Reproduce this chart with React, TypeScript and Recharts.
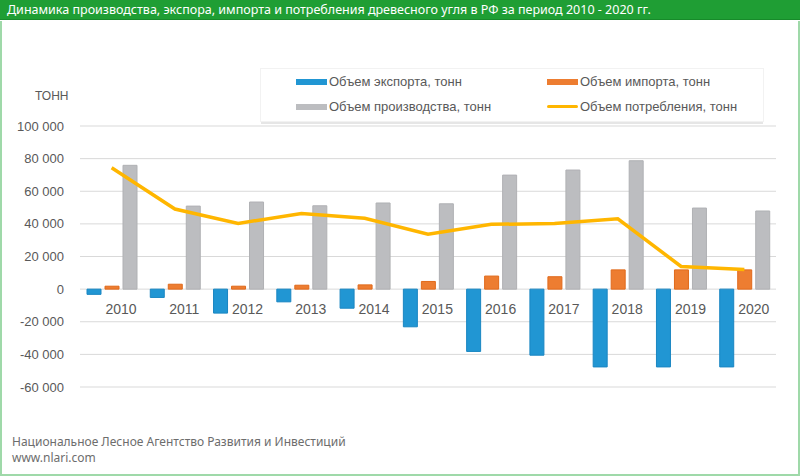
import React from 'react';
import {
    ComposedChart,
    Bar,
    Line,
    XAxis,
    YAxis,
    CartesianGrid,
    Legend,
    LabelList
} from 'recharts';

// --- Data ---

const years = ['2010', '2011', '2012', '2013', '2014', '2015', '2016', '2017', '2018', '2019', '2020'];
const exportVolume = [-3200, -5100, -14700, -7800, -11700, -23100, -38200, -40500, -47700, -47700, -47700];
const importVolume = [1800, 3000, 1800, 2400, 2600, 4700, 8000, 7600, 11800, 11800, 11800];
const productionVolume = [75900, 50900, 53400, 51100, 52800, 52300, 69900, 73000, 78700, 49700, 47900];
const consumptionVolume = [74400, 49100, 40300, 46400, 43400, 33600, 39700, 40200, 43100, 13900, 12100];
const yTicks = [-60000, -40000, -20000, 0, 20000, 40000, 60000, 80000, 100000];

const chartData = years.map((year, i) => ({
    year,
    export: exportVolume[i],
    import: importVolume[i],
    production: productionVolume[i],
    consumption: consumptionVolume[i]
}));

const FONT = '"Liberation Sans", Arial, sans-serif';
const TEXT_GRAY = '#595959';

const legendItems = [
    { name: 'Объем экспорта, тонн', color: '#2196d3', type: 'bar' },
    { name: 'Объем импорта, тонн', color: '#ed7d31', type: 'bar' },
    { name: 'Объем производства, тонн', color: '#bcbdc0', type: 'bar' },
    { name: 'Объем потребления, тонн', color: '#ffb600', type: 'line' }
];

const formatTick = (v: number) => {
    const s = Math.abs(v).toString().replace(/\B(?=(\d{3})+(?!\d))/g, ' ');
    return v < 0 ? `-${s}` : s;
};

// year labels sit just under the zero line, like Excel does
const YearLabel = (props: any) => {
    const { x, y, width, height, value } = props;
    return (
        <text
            x={x + width / 2 + 9}
            y={y + height + 25}
            textAnchor="middle"
            fill={TEXT_GRAY}
            fontSize={14}
            fontFamily={FONT}
        >
            {value}
        </text>
    );
};

const CustomLegend = () => (
    <div
        style={{
            position: 'absolute',
            left: 260,
            top: 68,
            width: 502,
            height: 52,
            background: '#fff',
            border: '1px solid #f2f2f2',
            boxShadow: '0 3px 0 -1px #e6e6e6',
            fontFamily: FONT,
            fontSize: 13,
            color: TEXT_GRAY
        }}
    >
        {legendItems.map((item, i) => (
            <div
                key={item.name}
                style={{
                    position: 'absolute',
                    left: i % 2 === 0 ? 35 : 286,
                    top: i < 2 ? 5 : 30,
                    display: 'flex',
                    alignItems: 'center',
                    whiteSpace: 'nowrap'
                }}
            >
                <span
                    style={{
                        display: 'inline-block',
                        width: 31,
                        height: item.type === 'line' ? 3 : 6,
                        background: item.color,
                        borderRadius: item.type === 'line' ? 2 : 0,
                        marginRight: 2
                    }}
                />
                {item.name}
            </div>
        ))}
    </div>
);

export default function App() {
    return (
        <div
            style={{
                position: 'absolute',
                left: 0,
                top: 0,
                width: 800,
                height: 476,
                background: '#fff',
                overflow: 'hidden'
            }}
        >
            {/* header */}
            <div
                style={{
                    position: 'absolute',
                    left: 0,
                    top: 0,
                    width: 800,
                    height: 20,
                    background: '#1f9e34',
                    borderBottom: '1px solid #178a2a',
                    color: '#fff',
                    fontFamily: '"Noto Sans", sans-serif',
                    fontSize: 12.5,
                    lineHeight: '20px',
                    paddingLeft: 7,
                    boxSizing: 'border-box',
                    whiteSpace: 'nowrap'
                }}
            >
                Динамика производства, экспора, импорта и потребления древесного угля в РФ за период 2010 - 2020 гг.
            </div>
            {/* frame */}
            <div
                style={{
                    position: 'absolute',
                    left: 0,
                    top: 21,
                    width: 800,
                    height: 455,
                    borderLeft: '2px solid #9fd9a9',
                    borderRight: '2px solid #9fd9a9',
                    borderBottom: '2px solid #9fd9a9',
                    boxSizing: 'border-box'
                }}
            />

            <div
                style={{
                    position: 'absolute',
                    left: 35,
                    top: 89,
                    fontFamily: FONT,
                    fontSize: 12,
                    color: TEXT_GRAY
                }}
            >
                ТОНН
            </div>

            <div style={{ position: 'absolute', left: 0, top: 0 }}>
                <ComposedChart
                    width={800}
                    height={400}
                    data={chartData}
                    margin={{ top: 126, right: 24, left: 0, bottom: 13 }}
                    barSize={14}
                    barGap={4}
                >
                    <CartesianGrid vertical={false} stroke="#d9d9d9" />
                    <XAxis dataKey="year" hide />
                    <YAxis
                        width={80}
                        domain={[-60000, 100000]}
                        ticks={yTicks}
                        axisLine={false}
                        tickLine={false}
                        tickMargin={10}
                        tickFormatter={formatTick}
                        tick={{ fill: TEXT_GRAY, fontSize: 13, fontFamily: FONT }}
                        interval={0}
                    />
                    <Bar dataKey="export" fill="#2196d3" stroke="#1a86c2" isAnimationActive={false} />
                    <Bar dataKey="import" fill="#ed7d31" stroke="#e06a1b" isAnimationActive={false}>
                        <LabelList dataKey="year" content={<YearLabel />} />
                    </Bar>
                    <Bar dataKey="production" fill="#bcbdc0" stroke="#b0b1b4" isAnimationActive={false} />
                    <Line
                        dataKey="consumption"
                        type="linear"
                        stroke="#ffb600"
                        strokeWidth={3.5}
                        dot={false}
                        isAnimationActive={false}
                    />
                    <Legend content={<CustomLegend />} wrapperStyle={{ position: 'absolute', left: 0, top: 0 }} />
                </ComposedChart>
            </div>

            {/* footer */}
            <div
                style={{
                    position: 'absolute',
                    left: 12,
                    top: 434,
                    fontFamily: '"Noto Sans", sans-serif',
                    fontSize: 12,
                    lineHeight: '16px',
                    color: '#6d6d6d'
                }}
            >
                <div>Национальное Лесное Агентство Развития и Инвестиций</div>
                <div>www.nlari.com</div>
            </div>
        </div>
    );
}
